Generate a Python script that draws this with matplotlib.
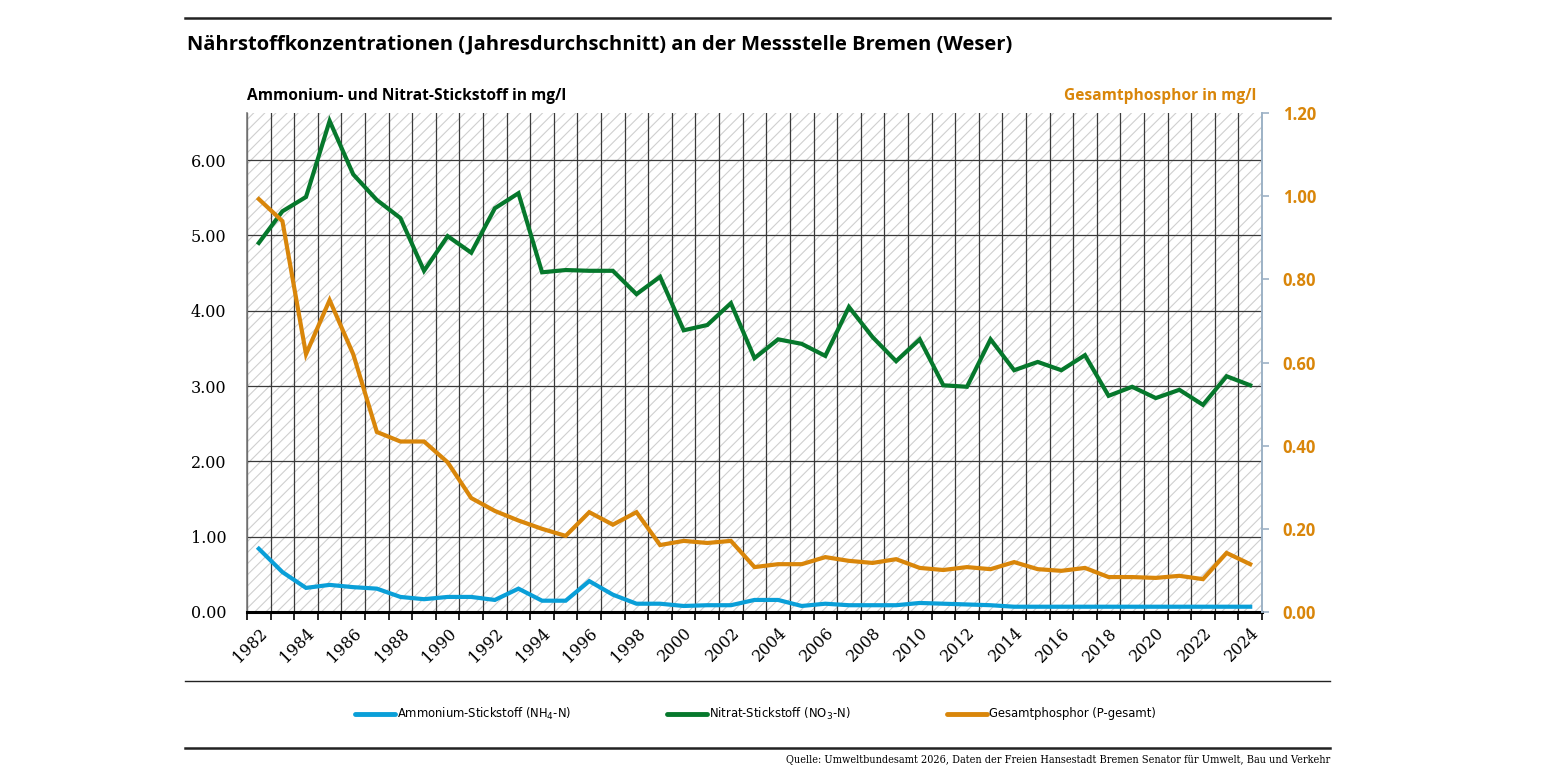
import matplotlib

matplotlib.use("Agg")
import matplotlib.pyplot as plt
from matplotlib.lines import Line2D
from matplotlib.patches import Rectangle
from matplotlib.ticker import FixedLocator, FuncFormatter

# Annual means, Messstelle Bremen (Weser)
years = list(range(1982, 2025))
ammonium = [0.84, 0.53, 0.32, 0.36, 0.33, 0.31, 0.20, 0.17, 0.20, 0.20,
            0.16, 0.31, 0.15, 0.15, 0.41, 0.23, 0.11, 0.11, 0.08, 0.09,
            0.09, 0.16, 0.16, 0.08, 0.11, 0.09, 0.09, 0.09, 0.12, 0.11,
            0.10, 0.09, 0.07, 0.07, 0.07, 0.07, 0.07, 0.07, 0.07, 0.07,
            0.07, 0.07, 0.07]
nitrat = [4.90, 5.32, 5.51, 6.52, 5.81, 5.47, 5.23, 4.53, 4.99, 4.77,
          5.36, 5.56, 4.51, 4.54, 4.53, 4.53, 4.22, 4.45, 3.74, 3.81,
          4.10, 3.37, 3.62, 3.56, 3.40, 4.05, 3.65, 3.33, 3.62, 3.01,
          2.99, 3.62, 3.21, 3.32, 3.21, 3.41, 2.87, 2.99, 2.84, 2.95,
          2.75, 3.13, 3.01]
phosphor = [0.993, 0.94, 0.62, 0.75, 0.62, 0.433, 0.41, 0.41, 0.36, 0.274,
            0.243, 0.22, 0.20, 0.183, 0.24, 0.21, 0.24, 0.161, 0.171, 0.166,
            0.171, 0.108, 0.115, 0.115, 0.132, 0.123, 0.118, 0.127, 0.106, 0.101,
            0.108, 0.103, 0.12, 0.103, 0.099, 0.106, 0.084, 0.084, 0.082, 0.087,
            0.079, 0.142, 0.115]

left_ticks = [0, 1, 2, 3, 4, 5, 6]
right_ticks = [0.0, 0.2, 0.4, 0.6, 0.8, 1.0, 1.2]

c_blue = "#0a9fd8"
c_green = "#06782c"
c_orange = "#d9860a"
c_spine = "#9db2c6"

W, H = 1545, 775
fig = plt.figure(figsize=(W / 100, H / 100), dpi=100, facecolor="white")


def fx(px):
    return px / W


def fy(py):
    return 1 - py / H


x = list(range(len(years)))
ax = fig.add_axes([fx(247), fy(612), fx(1262) - fx(247), fy(113) - fy(612)])
ax.set_xlim(-0.5, len(years) - 0.5)
ax.set_ylim(0, 6.625)

# hatched background
plt.rcParams["hatch.linewidth"] = 0.8
plt.rcParams["hatch.color"] = "#cfcfcf"
ax.add_patch(
    Rectangle((0, 0), 1, 1, transform=ax.transAxes, facecolor="white",
              edgecolor="#cfcfcf", hatch="///", linewidth=0, zorder=0)
)

# grid
for b in range(len(years) + 1):
    ax.axvline(b - 0.5, color="#3a3a3a", lw=0.9, zorder=1)
for t in left_ticks[1:]:
    ax.axhline(t, color="#3a3a3a", lw=0.9, zorder=1)

ax.plot(x, ammonium, color=c_blue, lw=3, zorder=3, solid_joinstyle="miter")
ax.plot(x, nitrat, color=c_green, lw=3, zorder=3, solid_joinstyle="miter")

ax.yaxis.set_major_locator(FixedLocator(left_ticks))
ax.yaxis.set_major_formatter(FuncFormatter(lambda v, p: "%.2f" % v))
ax.tick_params(axis="y", length=0, pad=15, labelsize=11.5)
for lab in ax.get_yticklabels():
    lab.set_family("DejaVu Serif")

ax.xaxis.set_major_locator(FixedLocator(x[::2]))
ax.set_xticklabels([str(y) for y in years[::2]], rotation=45, ha="right",
                   va="top", rotation_mode="anchor", family="DejaVu Serif",
                   fontsize=11.5)
ax.tick_params(axis="x", which="major", length=0, pad=9)
ax.xaxis.set_minor_locator(FixedLocator([b - 0.5 for b in range(len(years) + 1)]))
ax.tick_params(axis="x", which="minor", length=6, width=1.2, color="black",
               direction="out")

ax.spines["top"].set_visible(False)
ax.spines["right"].set_visible(False)
ax.spines["left"].set_color("#7a7a7a")
ax.spines["left"].set_linewidth(1.2)
ax.spines["bottom"].set_color("black")
ax.spines["bottom"].set_linewidth(2.2)
ax.spines["bottom"].set_zorder(4)

ax2 = ax.twinx()
ax2.set_ylim(0, 1.2)
ax2.plot(x, phosphor, color=c_orange, lw=3, zorder=3, solid_joinstyle="miter")
ax2.yaxis.set_major_locator(FixedLocator(right_ticks))
ax2.yaxis.set_major_formatter(FuncFormatter(lambda v, p: "%.2f" % v))
ax2.tick_params(axis="y", length=5, width=1.2, color=c_spine, pad=10,
                labelsize=12, labelcolor=c_orange)
for lab in ax2.get_yticklabels():
    lab.set_fontweight("bold")
    lab.set_family("Open Sans")
for s in ["top", "left", "bottom"]:
    ax2.spines[s].set_visible(False)
ax2.spines["right"].set_color(c_spine)
ax2.spines["right"].set_linewidth(1.4)

# rules
for py, lw in [(18, 1.8), (681, 1.0), (748, 1.8)]:
    fig.add_artist(Line2D([fx(185), fx(1330)], [fy(py), fy(py)], color="#222222",
                          lw=lw, transform=fig.transFigure))

fig.text(fx(187), fy(44), "Nährstoffkonzentrationen (Jahresdurchschnitt) an der Messstelle Bremen (Weser)",
         ha="left", va="center", fontsize=14.5, fontweight="bold", family="Open Sans")
fig.text(fx(247), fy(96), "Ammonium- und Nitrat-Stickstoff in mg/l", ha="left",
         va="center", fontsize=11.2, fontweight="bold", family="Open Sans")
fig.text(fx(1256), fy(96), "Gesamtphosphor in mg/l", ha="right", va="center",
         fontsize=11.2, fontweight="bold", family="Open Sans", color=c_orange)

# legend
legend_items = [
    (355, c_blue, "Ammonium-Stickstoff (NH$_4$-N)"),
    (667, c_green, "Nitrat-Stickstoff (NO$_3$-N)"),
    (947, c_orange, "Gesamtphosphor (P-gesamt)"),
]
plt.rcParams["mathtext.fontset"] = "custom"
plt.rcParams["mathtext.rm"] = "DejaVu Sans"
plt.rcParams["mathtext.it"] = "DejaVu Sans"
for px0, col, lab in legend_items:
    fig.add_artist(Line2D([fx(px0), fx(px0 + 40)], [fy(714), fy(714)], color=col,
                          lw=3.5, solid_capstyle="round", transform=fig.transFigure))
    fig.text(fx(px0 + 42), fy(714), lab, ha="left", va="center", fontsize=9.25,
             family="DejaVu Sans", stretch="condensed")

fig.text(fx(1330), fy(760), "Quelle: Umweltbundesamt 2026, Daten der Freien Hansestadt Bremen Senator für Umwelt, Bau und Verkehr",
         ha="right", va="center", fontsize=7.8, family="DejaVu Serif", stretch="condensed")

fig.savefig("out.png", dpi=100, facecolor="white")
